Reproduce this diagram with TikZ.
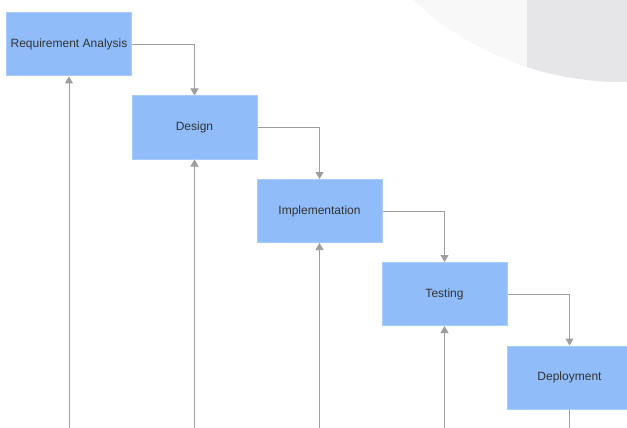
\documentclass[tikz,border=0pt]{standalone}
\usepackage{fontspec}
\setmainfont{Liberation Sans}
\usetikzlibrary{arrows.meta}
\definecolor{boxfill}{HTML}{90BDF9}
\definecolor{boxline}{HTML}{A8CCFB}
\definecolor{txt}{HTML}{333333}
\definecolor{conn}{HTML}{9E9E9E}
\definecolor{bglight}{HTML}{F8F8F9}
\definecolor{bgdark}{HTML}{E6E6E9}
\tikzset{
  phase/.style={draw=boxline, line width=1pt, fill=boxfill, minimum width=125pt, minimum height=63pt,
    inner sep=0pt, text=txt, font=\fontsize{12}{14}\selectfont},
  flow/.style={draw=conn, line width=1pt, -{Triangle[width=8pt,length=7pt]}},
  plain/.style={draw=conn, line width=1pt}
}
\begin{document}
\begin{tikzpicture}[x=1pt,y=-1pt]
\useasboundingbox (0,0) rectangle (627,428);
\clip (0,0) rectangle (627,428);
\fill[white] (0,0) rectangle (627,428);
% background decoration
\fill[bglight] (622,-225.5) circle[radius=307.5];
\begin{scope}
  \clip (622,-225.5) circle[radius=307.5];
  \fill[bgdark] (527,-10) rectangle (627,428);
\end{scope}
% nodes
\node[phase] (ra) at (69,44.5) {Requirement Analysis};
\node[phase] (de) at (194.5,127.5) {Design};
\node[phase] (im) at (319.5,211) {Implementation};
\node[phase] (te) at (444.5,294) {Testing};
\node[phase] (dp) at (569.5,377.5) {Deployment};
% bottom coordinates
\coordinate (b1) at (69,430);
\coordinate (b2) at (194.5,430);
\coordinate (b3) at (319.5,430);
\coordinate (b4) at (444.5,430);
\coordinate (b5) at (569.5,430);
% forward connectors
\draw[flow] (ra.east) -| (de.north);
\draw[flow] (de.east) -| (im.north);
\draw[flow] (im.east) -| (te.north);
\draw[flow] (te.east) -| (dp.north);
% feedback connectors
\draw[flow] (b1) -- (ra.south);
\draw[flow] (b2) -- (de.south);
\draw[flow] (b3) -- (im.south);
\draw[flow] (b4) -- (te.south);
\draw[plain] (dp.south) -- (b5);
\end{tikzpicture}
\end{document}
